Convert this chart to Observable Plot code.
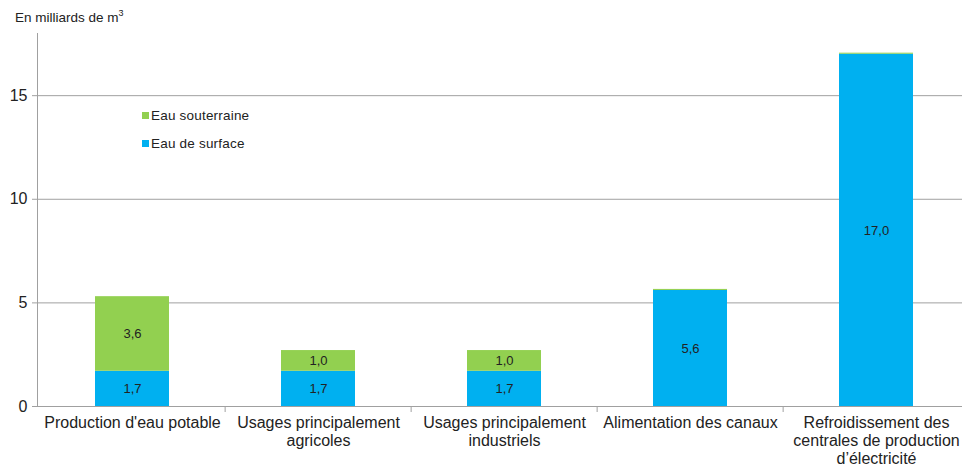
<!DOCTYPE html>
<html>
<head>
<meta charset="utf-8">
<script src="https://cdn.jsdelivr.net/npm/d3@7"></script>
<script src="https://cdn.jsdelivr.net/npm/@observablehq/plot@0.6"></script>
<style>
  html, body { margin: 0; padding: 0; background: #fff; }
  body { font-family: "Liberation Sans", Arial, sans-serif; }
  #wrap { position: relative; width: 966px; height: 466px; overflow: hidden; }
  #title { position: absolute; left: 15px; top: 8px; font-size: 13.5px; color: #222; }
  #title sup { font-size: 9px; }
  .leg { position: absolute; left: 142px; font-size: 13.5px; color: #222; display: flex; align-items: center; letter-spacing: 0.2px; }
  .leg span.sw { display: inline-block; width: 7px; height: 7px; margin-right: 2px; }
</style>
</head>
<body>
<div id="wrap">
  <div id="chart"></div>
  <div id="title">En milliards de m<sup>3</sup></div>
  <div class="leg" style="top:108px"><span class="sw" style="background:#92D050"></span>Eau souterraine</div>
  <div class="leg" style="top:136px"><span class="sw" style="background:#00B0F0"></span>Eau de surface</div>
</div>
<script>
const categories = [
  "Production d'eau potable",
  "Usages principalement\nagricoles",
  "Usages principalement\nindustriels",
  "Alimentation des canaux",
  "Refroidissement des\ncentrales de production\nd’électricité"
];
const types = ["Eau de surface", "Eau souterraine"];
const surface = [1.7, 1.7, 1.7, 5.6, 17.0];
const souterraine = [3.6, 1.0, 1.0, 0.05, 0.05];
const yTicks = [0, 5, 10, 15];
const colors = ["#00B0F0", "#92D050"];

const rows = [];
categories.forEach((c, i) => {
  rows.push({cat: c, type: types[0], value: surface[i]});
  rows.push({cat: c, type: types[1], value: souterraine[i]});
});
const fmt = v => v.toFixed(1).replace(".", ",");

const W = 966, H = 466, mL = 37, mR = 4, mT = 33, mB = 60;
const step = 186.75;
const halfStep = step / 2;

const chart = Plot.plot({
  width: W,
  height: H,
  marginLeft: mL,
  marginRight: mR,
  marginTop: mT,
  marginBottom: mB,
  style: {fontFamily: "Liberation Sans, Arial, sans-serif", color: "#222", background: "#fff", overflow: "visible"},
  x: {domain: categories, range: [mL, mL + step * categories.length], paddingInner: 0.6, paddingOuter: 0.3, label: null},
  y: {domain: [0, 18], label: null},
  color: {domain: types, range: colors},
  marks: [
    Plot.gridY(yTicks.slice(1), {stroke: "#a0a0a0", strokeOpacity: 1}),
    Plot.barY(rows, {x: "cat", y: "value", fill: "type", order: types}),
    Plot.text(rows, Plot.stackY({
      x: "cat", y: "value", z: "type", order: types,
      text: d => d.value >= 0.5 ? fmt(d.value) : "",
      fontSize: 13, fill: "#222"
    })),
    Plot.ruleY([0], {stroke: "#a0a0a0"}),
    Plot.ruleX(categories.slice(1), {x: d => d, dx: -halfStep, y1: 0, y2: 0, insetBottom: -6, stroke: "#a0a0a0"}),
    Plot.axisY(yTicks, {tickSize: 5, tickPadding: 5, fontSize: 16, stroke: "#a0a0a0", fill: "#222", label: null}),
    Plot.frame({anchor: "left", stroke: "#a0a0a0"}),
    Plot.axisX({tickSize: 0, tickPadding: 9, fontSize: 16, fill: "#222", label: null, lineHeight: 1.12})
  ]
});
document.getElementById("chart").appendChild(chart);
</script>
</body>
</html>
